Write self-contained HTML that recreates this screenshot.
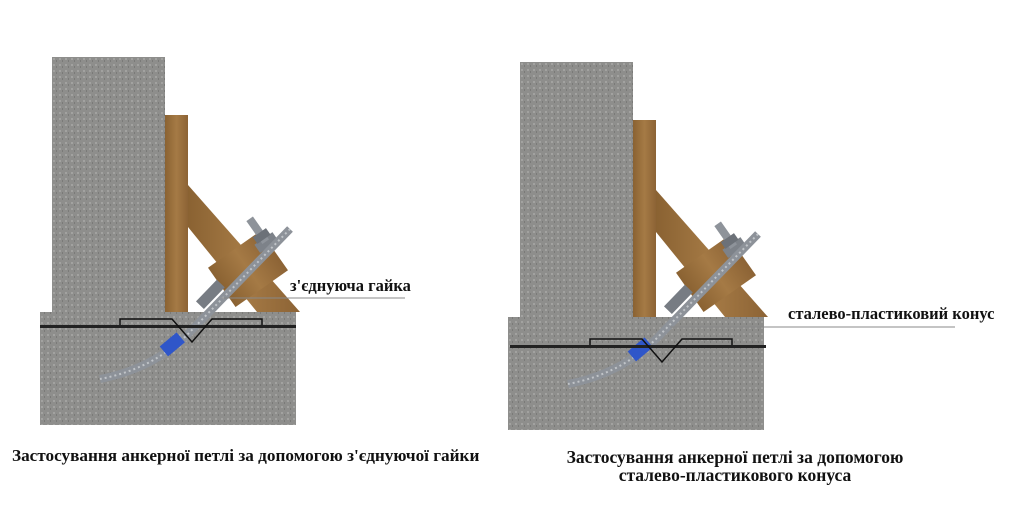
<!DOCTYPE html>
<html><head><meta charset="utf-8"><style>
html,body{margin:0;padding:0;background:#fff;width:1024px;height:512px;overflow:hidden}
svg{display:block}
text{font-family:"Liberation Serif",serif;fill:#111;font-weight:bold}
</style></head><body>
<svg width="1024" height="512" viewBox="0 0 1024 512">
<defs>
<pattern id="c" width="6" height="6" patternUnits="userSpaceOnUse">
<rect width="6" height="6" fill="#8e8e8c"/><rect x="1" y="1" width="2" height="2" fill="#a2a2a0"/><rect x="4" y="3" width="1" height="2" fill="#7a7a78"/>
</pattern>
<linearGradient id="w" x1="0" x2="1"><stop offset="0" stop-color="#8a6232"/><stop offset="0.5" stop-color="#a57a45"/><stop offset="1" stop-color="#8c6335"/></linearGradient>
<g id="fig">
<rect x="0" y="0" width="113" height="258" fill="url(#c)"/>
<rect x="-12" y="255" width="256" height="113" fill="url(#c)"/>
<rect x="113" y="58" width="23" height="197" fill="url(#w)"/>
<polygon points="136,128 136,170 205,255 248,255" fill="url(#w)"/>
<g transform="translate(196,212) rotate(-35)">
<rect x="-32" y="-24" width="64" height="48" fill="url(#w)"/>
</g>
<g transform="translate(216,188) rotate(-35)">
<rect x="-11" y="-8" width="22" height="10" fill="#7d8289"/>
<rect x="-4" y="-32" width="8" height="28" fill="#8e939a"/>
<rect x="-8" y="-15" width="16" height="8" fill="#6c7178"/>
</g>
<path d="M238,172 L135,278 Q100,312 48,322" stroke="#8d9299" stroke-width="8" fill="none"/>
<path d="M238,172 L135,278 Q100,312 48,322" stroke="#c0c4c8" stroke-width="2" stroke-dasharray="2 3" fill="none"/>
<rect x="153" y="222" width="11" height="30" fill="#777c83" transform="rotate(44 158 237)"/>
<rect x="114" y="276" width="13" height="22" fill="#2f56c9" transform="rotate(50 120 287)"/>
</g>
<g id="bar">
<rect x="0" y="0" width="256" height="3" fill="#222"/>
<path d="M80,0 V-6 H132 L152,17 L172,-6 H222 V0" stroke="#111" stroke-width="1.5" fill="none"/>
</g>
</defs>
<use href="#fig" x="52" y="57"/>
<use href="#bar" x="40" y="325"/>
<use href="#fig" x="520" y="62"/>
<use href="#bar" x="510" y="345"/>
<line x1="222" y1="298" x2="405" y2="298" stroke="#888" stroke-width="1"/>
<text x="290" y="291" font-size="16.5">з'єднуюча гайка</text>
<line x1="670" y1="327" x2="955" y2="327" stroke="#888" stroke-width="1"/>
<text x="788" y="319" font-size="16.5">сталево-пластиковий конус</text>
<text x="12" y="461" font-size="17.2">Застосування анкерної петлі за допомогою з'єднуючої гайки</text>
<text x="735" y="463" font-size="17.5" text-anchor="middle">Застосування анкерної петлі за допомогою</text>
<text x="735" y="481" font-size="17.5" text-anchor="middle">сталево-пластикового конуса</text>
</svg>
</body></html>
